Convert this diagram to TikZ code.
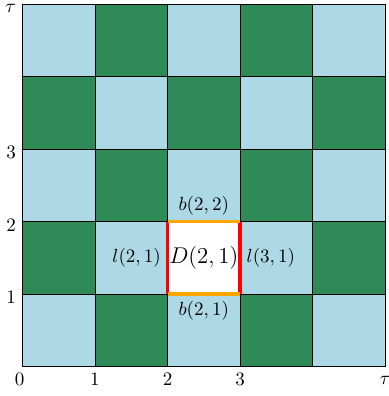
\documentclass[tikz,border=0pt]{standalone}
\usepackage{xcolor}
\usepackage{amsmath, amssymb}
\usepackage{tikz}
\usetikzlibrary{positioning, calc}
\definecolor{cellblue}{HTML}{ADD8E6}
\definecolor{cellgreen}{HTML}{2E8B57}
\definecolor{edgeorange}{HTML}{FFA500}

\begin{document}
\begin{tikzpicture}[x=1.34cm, y=1.34cm, every node/.style={inner sep=3.33pt},
        lightcell/.style={fill=cellblue, draw=black, line width=0.5pt},
        darkcell/.style={fill=cellgreen, draw=black, line width=0.5pt},
        vedge/.style={line width=1.7pt, color=red},
        hedge/.style={line width=1.7pt, color=edgeorange}]
      \useasboundingbox (-0.31,-0.406) rectangle (5.048,5.055);
      % checkerboard
      \foreach \i in {0,...,4}
        \foreach \j in {0,...,4} {
          \pgfmathtruncatemacro{\cellsum}{\i+\j}
          \ifodd\cellsum
            \draw[darkcell] (\i,\j) rectangle ++(1,1);
          \else
            \draw[lightcell] (\i,\j) rectangle ++(1,1);
          \fi
        }
      % the cell D(2,1)
      \coordinate (sw) at (2,1);
      \coordinate (se) at (3,1);
      \coordinate (nw) at (2,2);
      \coordinate (ne) at (3,2);
      \fill[white] (sw) rectangle (ne);
      \draw[vedge] (sw)--(nw) (se)--(ne);
      \draw[hedge] (sw)--(se) (nw)--(ne);
      \node (dcell) at ($(sw)!0.5!(ne)$) {\large $D(2,1)$};
      \node[above] (btop) at ($(nw)!0.5!(ne)$) {$b(2,2)$};
      \node[below] (bbot) at ($(sw)!0.5!(se)$) {$b(2,1)$};
      \node[left] (lleft) at ($(sw)!0.5!(nw)$) {$l(2,1)$};
      \node[right] (lright) at ($(se)!0.5!(ne)$) {$l(3,1)$};
      % axes labels
      \node[below] (x0) at (-0.04,0) {$0$};
      \node[below] (x1) at (1,0) {$1$};
      \node[below] (x2) at (2,0) {$2$};
      \node[below] (x3) at (3,0) {$3$};
      \node[below, yshift=-1.5pt] (xtau) at (5,0) {$\tau$};
      \node[left, yshift=-2pt] (y1) at (0,1) {$1$};
      \node[left, yshift=-2pt] (y2) at (0,2) {$2$};
      \node[left, yshift=-2pt] (y3) at (0,3) {$3$};
      \node[left, inner sep=0.8pt, xshift=-2.5pt, yshift=-2.2pt] (ytau) at (0,5) {$\tau$};
    \end{tikzpicture}
\end{document}
